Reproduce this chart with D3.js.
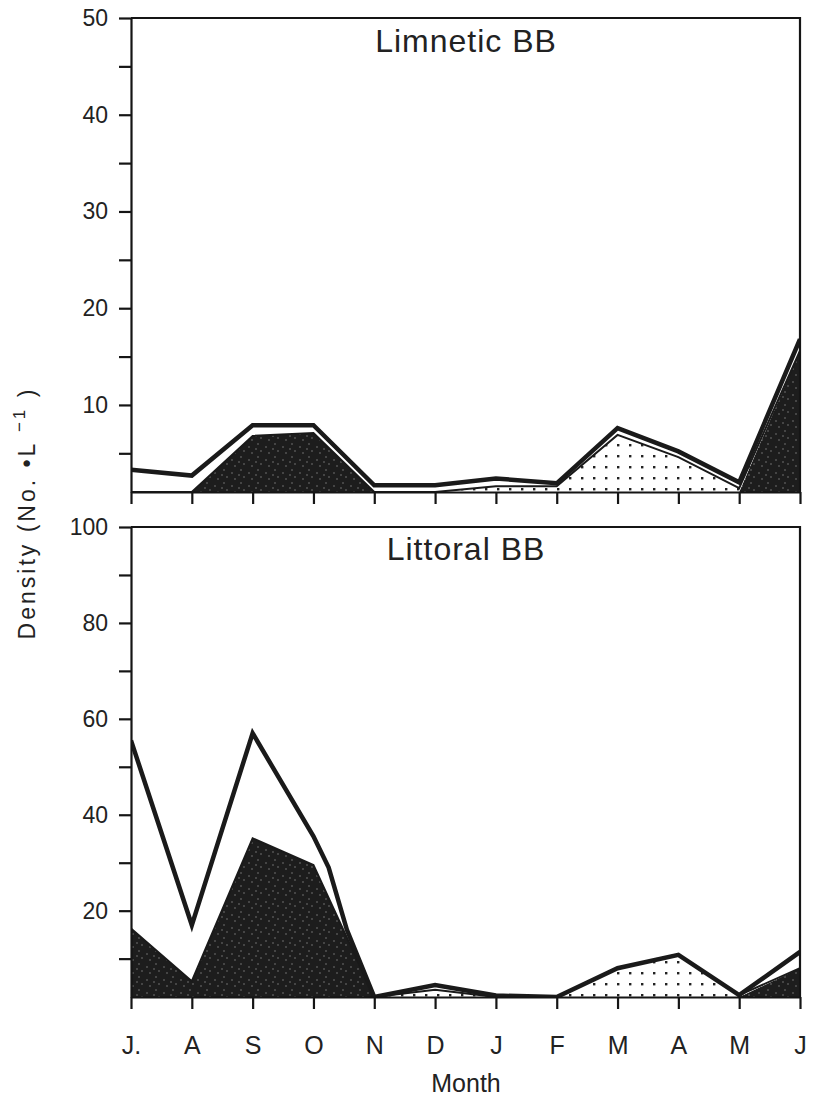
<!DOCTYPE html>
<html lang="en">
<head>
<meta charset="UTF-8">
<title>Limnetic and Littoral BB density</title>
<script src="https://d3js.org/d3.v7.min.js"></script>
<style>
  body { margin: 0; background: #fff; }
  svg { display: block; font-family: "Liberation Sans", Arial, sans-serif; }
  .axis path, .axis line { stroke: #151515; stroke-width: 2.2; }
  .axis text { font-size: 23px; fill: #222; }
</style>
</head>
<body>
<div id="chart"></div>
<script>
const months = ["J.", "A", "S", "O", "N", "D", "J", "F", "M", "A", "M", "J"];

// Limnetic BB (dark taxon, dotted taxon stacked on it, total density)
const limBlack   = [0, 0, 6.8, 7.1, 1.0, 0, 0, 0, 0, 0, 1.0, 15.6];
const limDotted  = [0, 0, 0, 0, 0, 0.8, 1.6, 1.6, 6.9, 4.6, 0.4, 0];
const limTotalAt = [0, 1, 2, 3, 4, 5, 6, 7, 8, 9, 10, 11];
const limTotal   = [3.3, 2.7, 7.9, 7.9, 1.7, 1.7, 2.4, 1.9, 7.6, 5.2, 2.0, 16.8];

// Littoral BB (total line has two extra readings between O and N)
const litBlack   = [16.3, 5.3, 35.1, 29.5, 1.0, 0, 0, 0, 0, 0, 0, 8.0];
const litDotted  = [0, 0, 0, 0, 0, 3.5, 2.0, 1.8, 8.0, 10.8, 2.4, 0];
const litTotalAt = [0, 1, 2, 3, 3.25, 3.55, 4, 5, 6, 7, 8, 9, 10, 11];
const litTotal   = [55.5, 17, 57, 35.5, 29, 16, 1.5, 4.5, 2.3, 1.8, 8.0, 10.8, 2.4, 11.4];

const width = 814, height = 1096;
const left = 131, right = 800;

const svg = d3.select("#chart")
  .append("svg")
  .attr("width", width)
  .attr("height", height);

const x = d3.scaleLinear()
  .domain([0, months.length - 1])
  .range([left, right]);

// fill patterns: fine dots and speckled black
const defs = svg.append("defs");
const dots = defs.append("pattern")
  .attr("id", "dots")
  .attr("patternUnits", "userSpaceOnUse")
  .attr("width", 12).attr("height", 11);
dots.append("rect").attr("width", 12).attr("height", 11).attr("fill", "#fff");
dots.append("rect").attr("x", 5).attr("y", 4).attr("width", 2.4).attr("height", 2.4).attr("fill", "#222");

const speck = defs.append("pattern")
  .attr("id", "speck")
  .attr("patternUnits", "userSpaceOnUse")
  .attr("width", 17).attr("height", 13);
speck.append("rect").attr("width", 17).attr("height", 13).attr("fill", "#1d1d1d");
[[3, 2], [11, 5], [6, 9], [14, 11], [1, 7]].forEach(p => {
  speck.append("circle").attr("cx", p[0]).attr("cy", p[1]).attr("r", 0.7).attr("fill", "#8a8a8a");
});

const panels = [
  { title: "Limnetic BB", black: limBlack, dotted: limDotted, total: limTotal, totalAt: limTotalAt,
    domain: [1, 50], top: 18, bottom: 492, ticks: d3.range(5, 51, 5), every: 10, titleY: 52, labels: false },
  { title: "Littoral BB", black: litBlack, dotted: litDotted, total: litTotal, totalAt: litTotalAt,
    domain: [2, 100], top: 527, bottom: 997, ticks: d3.range(10, 101, 10), every: 20, titleY: 560, labels: true }
];

panels.forEach((p, k) => {
  const y = d3.scaleLinear().domain(p.domain).range([p.bottom, p.top]).clamp(true);

  defs.append("clipPath").attr("id", "clip" + k)
    .append("rect")
    .attr("x", left).attr("y", p.top)
    .attr("width", right - left).attr("height", p.bottom - p.top);

  const plot = svg.append("g").attr("clip-path", `url(#clip${k})`);

  const stackTop = p.black.map((b, i) => b + p.dotted[i]);

  plot.append("path")
    .datum(p.black)
    .attr("fill", "url(#speck)")
    .attr("d", d3.area().x((d, i) => x(i)).y0(y(0)).y1(d => y(d)));

  plot.append("path")
    .datum(p.dotted)
    .attr("fill", "url(#dots)")
    .attr("d", d3.area().x((d, i) => x(i)).y0((d, i) => y(p.black[i])).y1((d, i) => y(stackTop[i])));

  plot.append("path")
    .datum(stackTop)
    .attr("fill", "none")
    .attr("stroke", "#1a1a1a")
    .attr("stroke-width", 2)
    .attr("d", d3.line().x((d, i) => x(i)).y(d => y(d)));

  plot.append("path")
    .datum(p.total)
    .attr("fill", "none")
    .attr("stroke", "#1a1a1a")
    .attr("stroke-width", 4.5)
    .attr("stroke-linejoin", "miter")
    .attr("d", d3.line().x((d, i) => x(p.totalAt[i])).y(d => y(d)));

  // frame: top and right edges
  svg.append("path")
    .attr("fill", "none")
    .attr("stroke", "#151515")
    .attr("stroke-width", 2.2)
    .attr("d", `M${left},${p.top}H${right}V${p.bottom}`);

  svg.append("g")
    .attr("class", "axis")
    .attr("transform", `translate(${left},0)`)
    .call(d3.axisLeft(y).tickValues(p.ticks).tickSize(12).tickSizeOuter(0).tickPadding(11)
      .tickFormat(d => d % p.every === 0 ? d : ""));

  svg.append("g")
    .attr("class", "axis")
    .attr("transform", `translate(0,${p.bottom})`)
    .call(d3.axisBottom(x).tickValues(d3.range(months.length)).tickSize(12).tickSizeOuter(0).tickPadding(27)
      .tickFormat(i => p.labels ? months[i] : ""))
    .selectAll("text").style("font-size", "25px");

  svg.append("text")
    .attr("x", 466).attr("y", p.titleY)
    .attr("text-anchor", "middle")
    .style("font-size", "32px")
    .style("letter-spacing", "1px")
    .attr("fill", "#222")
    .text(p.title);
});

svg.selectAll(".axis .domain").attr("stroke-width", 2.2);

const ylab = svg.append("text")
  .attr("transform", "translate(35,513) rotate(-90)")
  .attr("text-anchor", "middle")
  .style("font-size", "23px")
  .style("letter-spacing", "3px")
  .attr("fill", "#222");
ylab.append("tspan").text("Density (No. \u2022L ");
ylab.append("tspan").attr("dy", -10).style("font-size", "17px").text("\u22121");
ylab.append("tspan").attr("dy", 10).text(" )");

svg.append("text")
  .attr("x", 466).attr("y", 1092)
  .attr("text-anchor", "middle")
  .style("font-size", "25px")
  .attr("fill", "#222")
  .text("Month");
</script>
</body>
</html>
